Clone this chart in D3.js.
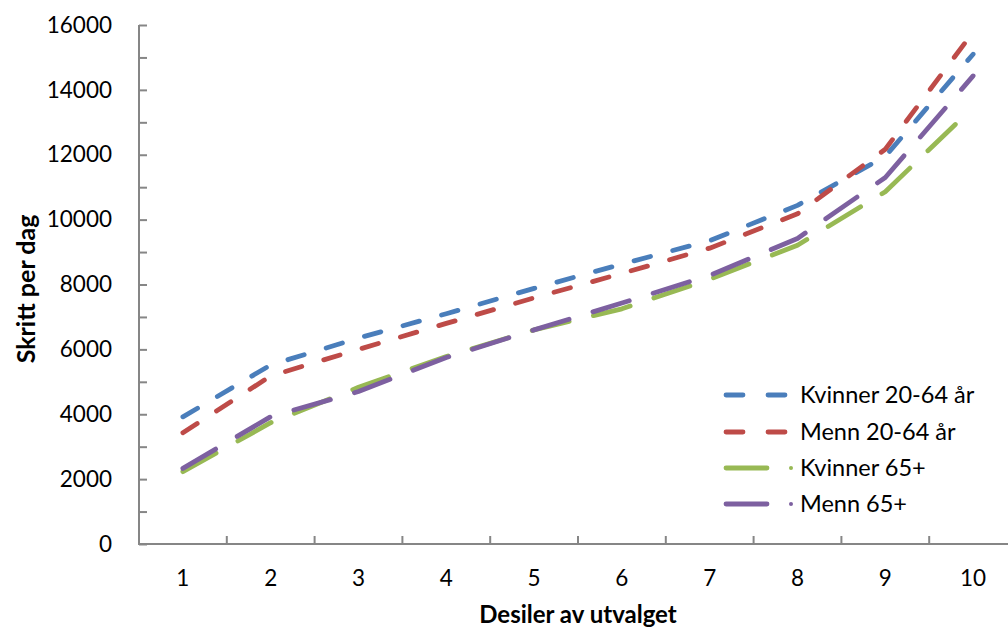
<!DOCTYPE html>
<html>
<head>
<meta charset="utf-8">
<script src="https://cdn.jsdelivr.net/npm/d3@7"></script>
<style>
  html, body { margin: 0; padding: 0; background: #fff; }
  svg { display: block; }
  text { font-family: Lato, "Liberation Sans", sans-serif; fill: #000; }
</style>
</head>
<body>
<svg id="chart" width="1008" height="629"></svg>
<script>
const categories = [1, 2, 3, 4, 5, 6, 7, 8, 9, 10];
const kvinner2064 = [3920, 5520, 6350, 7100, 7880, 8630, 9350, 10440, 11950, 15100];
const menn2064    = [3430, 5180, 6000, 6800, 7590, 8340, 9120, 10180, 12170, 15780];
const kvinner65   = [2230, 3740, 4830, 5780, 6600, 7250, 8160, 9210, 10860, 13460];
const menn65      = [2330, 3925, 4700, 5750, 6600, 7430, 8280, 9420, 11300, 14430];
const seriesNames = ["Kvinner 20-64 år", "Menn 20-64 år", "Kvinner 65+", "Menn 65+"];
const seriesColors = ["#4A7EBB", "#BE4B48", "#98B954", "#7D60A0"];
const yTicks = [0, 2000, 4000, 6000, 8000, 10000, 12000, 14000, 16000];
const yMinorTicks = d3.range(0, 16001, 1000);

const series = [
  { name: seriesNames[0], values: kvinner2064, color: seriesColors[0], type: "dash" },
  { name: seriesNames[1], values: menn2064, color: seriesColors[1], type: "dash" },
  { name: seriesNames[2], values: kvinner65, color: seriesColors[2], type: "long" },
  { name: seriesNames[3], values: menn65, color: seriesColors[3], type: "long" }
];

const svg = d3.select("#chart");
const mLeft = 139, mTop = 25, mBottom = 544, step = 87.8;
const x = d3.scaleBand().domain(categories).range([mLeft, mLeft + step * categories.length]).padding(0);
const y = d3.scaleLinear().domain([0, 16000]).range([mBottom, mTop]);
const cx = d => x(d) + x.bandwidth() / 2;
const axisColor = "#868686";

// Y axis
const yAxis = d3.axisLeft(y).tickValues(yMinorTicks).tickSize(-8).tickFormat(d => yTicks.includes(d) ? d : "");
const gy = svg.append("g").attr("transform", `translate(${mLeft},0)`).call(yAxis);
gy.select(".domain").attr("stroke", axisColor).attr("stroke-width", 2).attr("d", `M0,${mTop}V${mBottom}`);
gy.selectAll(".tick line").attr("stroke", axisColor).attr("stroke-width", 2);
gy.selectAll(".tick text").attr("x", -27).attr("font-size", 22.5).attr("font-family", "Lato, sans-serif").attr("fill", "#000");

// X axis
const xAxis = d3.axisBottom(x).tickSize(0).tickPadding(26);
const gx = svg.append("g").attr("transform", `translate(0,${mBottom})`).call(xAxis);
gx.select(".domain").attr("stroke", axisColor).attr("stroke-width", 2).attr("d", `M${mLeft - 1},0H1010`);
gx.selectAll(".tick text").attr("font-size", 22.5).attr("font-family", "Lato, sans-serif").attr("fill", "#000");
gx.selectAll(".bt").data(categories.slice(1)).enter().append("line")
  .attr("x1", d => x(d)).attr("x2", d => x(d)).attr("y1", 0).attr("y2", -8)
  .attr("stroke", axisColor).attr("stroke-width", 2);

// Axis titles
svg.append("text").attr("transform", "translate(35,289) rotate(-90)")
  .attr("text-anchor", "middle").attr("font-size", 25).attr("font-weight", "bold").text("Skritt per dag");
svg.append("text").attr("x", 578).attr("y", 623)
  .attr("text-anchor", "middle").attr("font-size", 24).attr("font-weight", "bold").text("Desiler av utvalget");

// Lines
const line = d3.line().x((d, i) => cx(categories[i])).y(d => y(d));
series.forEach(s => {
  svg.append("path").datum(s.values)
    .attr("d", line)
    .attr("fill", "none")
    .attr("stroke", s.color)
    .attr("stroke-width", 4.8)
    .attr("stroke-linecap", "round")
    .attr("stroke-linejoin", "round")
    .attr("stroke-dasharray", s.type === "dash" ? "17 23" : "38 25");
});

// Legend
const legendY = [395, 432, 468, 504];
const lg = svg.append("g");
series.forEach((s, i) => {
  const yy = legendY[i];
  if (s.type === "dash") {
    lg.append("line").attr("x1", 726).attr("x2", 787).attr("y1", yy).attr("y2", yy)
      .attr("stroke", s.color).attr("stroke-width", 4.8).attr("stroke-linecap", "round")
      .attr("stroke-dasharray", "17 25");
  } else {
    lg.append("line").attr("x1", 726).attr("x2", 767).attr("y1", yy).attr("y2", yy)
      .attr("stroke", s.color).attr("stroke-width", 4.8).attr("stroke-linecap", "round");
    lg.append("circle").attr("cx", 791).attr("cy", yy).attr("r", 2).attr("fill", s.color);
  }
  lg.append("text").attr("x", 800).attr("y", yy).attr("dy", "0.36em")
    .attr("font-size", 23.5).text(s.name);
});
</script>
</body>
</html>
